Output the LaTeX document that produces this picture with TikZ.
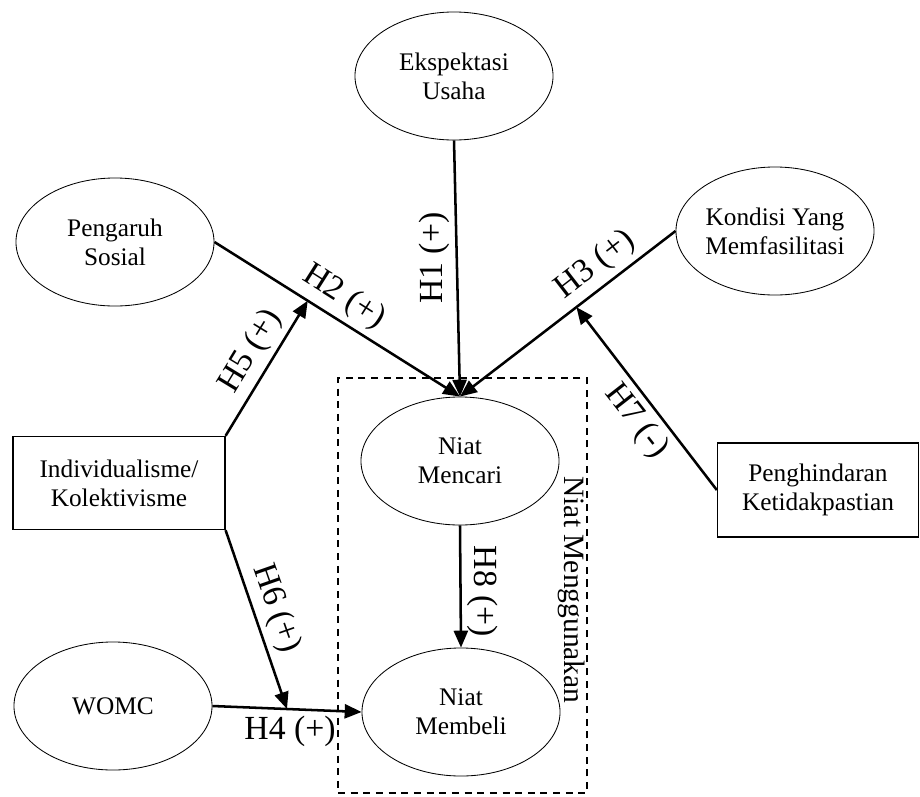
\documentclass[tikz,border=0pt]{standalone}
\usepackage{fontspec}
\setmainfont{Liberation Serif}
\usetikzlibrary{arrows.meta,positioning,shapes.geometric,calc}

\begin{document}
\begin{tikzpicture}[x=0.025cm, y=-0.025cm]
    \tikzset{konstruk/.style={ellipse, draw, line width=0.6pt, minimum width=4.95cm,
      minimum height=3.2cm, inner sep=0pt, align=center, font=\fontsize{18}{20.5}\selectfont},
      kotak/.style={rectangle, draw, line width=0.8pt, inner sep=0pt, align=center,
      font=\fontsize{18}{20.5}\selectfont},
      panah/.style={-{Triangle[length=12pt,width=10pt]}, line width=1.8pt},
      hipo/.style={font=\fontsize{24}{27}\selectfont, inner sep=4pt}}
    \useasboundingbox (0,0) rectangle (920,796);

    % Niat Menggunakan (kotak putus-putus)
    \node[draw, line width=1.6pt, dash pattern=on 5pt off 4pt, minimum width=6.225cm,
      minimum height=10.375cm, inner sep=0pt] (menggunakan) at (462.5,585.5) {};
    \node[font=\fontsize{21}{24}\selectfont, rotate=-90] (lmenggunakan) at (572,590) {Niat Menggunakan};

    % Konstruk
    \node[konstruk] (ekspektasi) at (454,76) {Ekspektasi\\Usaha};
    \node[konstruk] (pengaruh) at (115,242) {Pengaruh\\Sosial};
    \node[konstruk] (kondisi) at (775,231) {Kondisi Yang\\Memfasilitasi};
    \node[konstruk] (mencari) at (460,461) {Niat\\Mencari};
    \node[konstruk] (membeli) at (461,712) {Niat\\Membeli};
    \node[konstruk] (womc) at (113,706) {WOMC};

    % Moderator
    \node[kotak, minimum width=5.3cm, minimum height=2.33cm] (individu) at (119,483) {Individualisme/\\Kolektivisme};
    \node[kotak, minimum width=5.03cm, minimum height=2.35cm] (penghindaran) at (818,490) {Penghindaran\\Ketidakpastian};

    % H1 - H4, H8
    \draw[panah] (ekspektasi.south) -- node[hipo, pos=0.46, rotate=90, anchor=south] (lh1) {H1 (+)} (mencari.north);
    \draw[panah] (pengaruh.east) -- node[hipo, pos=0.48, rotate=-32.4, anchor=south] (lh2) {H2 (+)} (mencari.north);
    \draw[panah] (kondisi.west) -- node[hipo, pos=0.31, rotate=37.7, anchor=south] (lh3) {H3 (+)} (mencari.north);
    \draw[panah] (womc.east) -- node[hipo, pos=0.52, anchor=north] (lh4) {H4 (+)} (membeli.west);
    \draw[panah] (mencari.south) -- node[hipo, pos=0.54, rotate=-90, anchor=south] (lh8) {H8 (+)} (membeli.north);

    % Efek moderasi
    \coordinate (ujung5) at ($(pengaruh.east)!0.38!(mencari.north)$);
    \coordinate (ujung7) at ($(kondisi.west)!0.46!(mencari.north)$);
    \coordinate (ujung6) at ($(womc.east)!0.5!(membeli.west)$);
    \draw[panah] (individu.north east) -- node[hipo, pos=0.54, rotate=58.7, anchor=south] (lh5) {H5 (+)} (ujung5);
    \draw[panah] (individu.south east) -- node[hipo, pos=0.48, rotate=-70.7, anchor=south] (lh6) {H6 (+)} (ujung6);
    \draw[panah] (penghindaran.west) -- node[hipo, pos=0.45, rotate=-52, anchor=north] (lh7) {H7 (-)} (ujung7);
\end{tikzpicture}
\end{document}
